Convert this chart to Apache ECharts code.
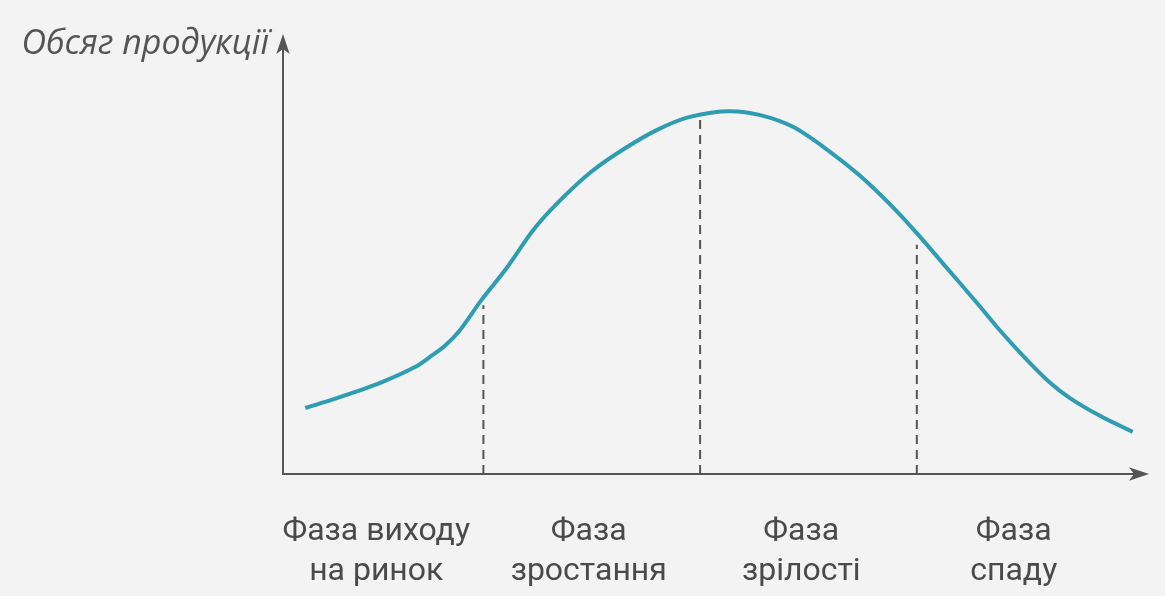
<!DOCTYPE html>
<html><head><meta charset="utf-8">
<script src="https://cdn.jsdelivr.net/npm/echarts@6/dist/echarts.min.js"></script>
<style>html,body{margin:0;padding:0;background:#f2f3f2}#c{width:1165px;height:596px}</style>
</head><body><div id="c"></div>
<script>
// Product life cycle curve (arbitrary units 0-100)
const curveX = [2.6, 6.6, 11.3, 15.4, 17.1, 18.8, 20.6, 22.9, 26.1, 29.1, 31.9, 35.7, 39.5, 43.5, 47.3, 52.0, 55.5, 59.3, 63.3, 67.1, 70.9, 73.7, 76.7, 80.7, 83.4, 86.3, 89.2, 91.5, 95.0, 98.8];
const curveY = [15.2, 17.7, 21.0, 24.7, 27.0, 29.5, 33.2, 39.6, 47.7, 56.2, 62.4, 69.4, 74.7, 79.3, 82.3, 83.6, 82.7, 80.0, 74.7, 68.7, 61.5, 55.5, 48.6, 39.4, 33.0, 26.7, 21.0, 17.5, 13.4, 9.7];
const boundaryX = [23.3, 48.5, 73.7];
const boundaryTop = [38.9, 81.6, 52.8];
const phaseLabels = ['Фаза виходу\nна ринок', 'Фаза\nзростання', 'Фаза\nзрілості', 'Фаза\nспаду'];
const yAxisName = 'Обсяг продукції';

const chart = echarts.init(document.getElementById('c'));
const curveData = curveX.map((x, i) => [x, curveY[i]]);
const dashSeries = boundaryX.map((x, i) => ({
  type: 'line', xAxisIndex: 0, yAxisIndex: 0, showSymbol: false, silent: true,
  data: [[x, 0], [x, boundaryTop[i]]],
  lineStyle: { color: '#555', width: 2, type: [9, 6] }, z: 1
}));
chart.setOption({
  backgroundColor: '#f2f3f2',
  animation: false,
  grid: [
    { left: 283, top: 40, width: 860, height: 434 },
    { left: 270, top: 40, width: 850, height: 434 }
  ],
  xAxis: [
    { type: 'value', gridIndex: 0, min: 0, max: 100, splitLine: { show: false },
      axisTick: { show: false }, axisLabel: { show: false },
      axisLine: { lineStyle: { color: '#555', width: 2 }, symbol: ['none', 'arrow'], symbolSize: [10, 20], symbolOffset: [0, 6] } },
    { type: 'category', gridIndex: 1, data: phaseLabels, axisLine: { show: false }, axisTick: { show: false },
      axisLabel: { interval: 0, margin: 38, color: '#4a4a4a', fontSize: 32, fontWeight: 'normal', lineHeight: 40, fontFamily: "'Roboto', sans-serif" } }
  ],
  yAxis: [
    { type: 'value', gridIndex: 0, min: 0, max: 100, splitLine: { show: false },
      axisTick: { show: false }, axisLabel: { show: false },
      name: yAxisName, nameLocation: 'end', nameGap: -4,
      nameTextStyle: { color: '#555', fontSize: 34, fontStyle: 'italic', fontFamily: "'Open Sans', 'Noto Sans', sans-serif", align: 'right', verticalAlign: 'middle', padding: [0, 14, 0, 0] },
      axisLine: { lineStyle: { color: '#555', width: 2 }, symbol: ['none', 'arrow'], symbolSize: [10, 20], symbolOffset: [0, 6] } },
    { type: 'value', gridIndex: 1, show: false, min: 0, max: 100 }
  ],
  series: [
    { type: 'line', xAxisIndex: 0, yAxisIndex: 0, data: curveData, smooth: 0.3, showSymbol: false,
      lineStyle: { color: '#2e9db4', width: 4 }, z: 3 },
    ...dashSeries
  ]
});
</script></body></html>
